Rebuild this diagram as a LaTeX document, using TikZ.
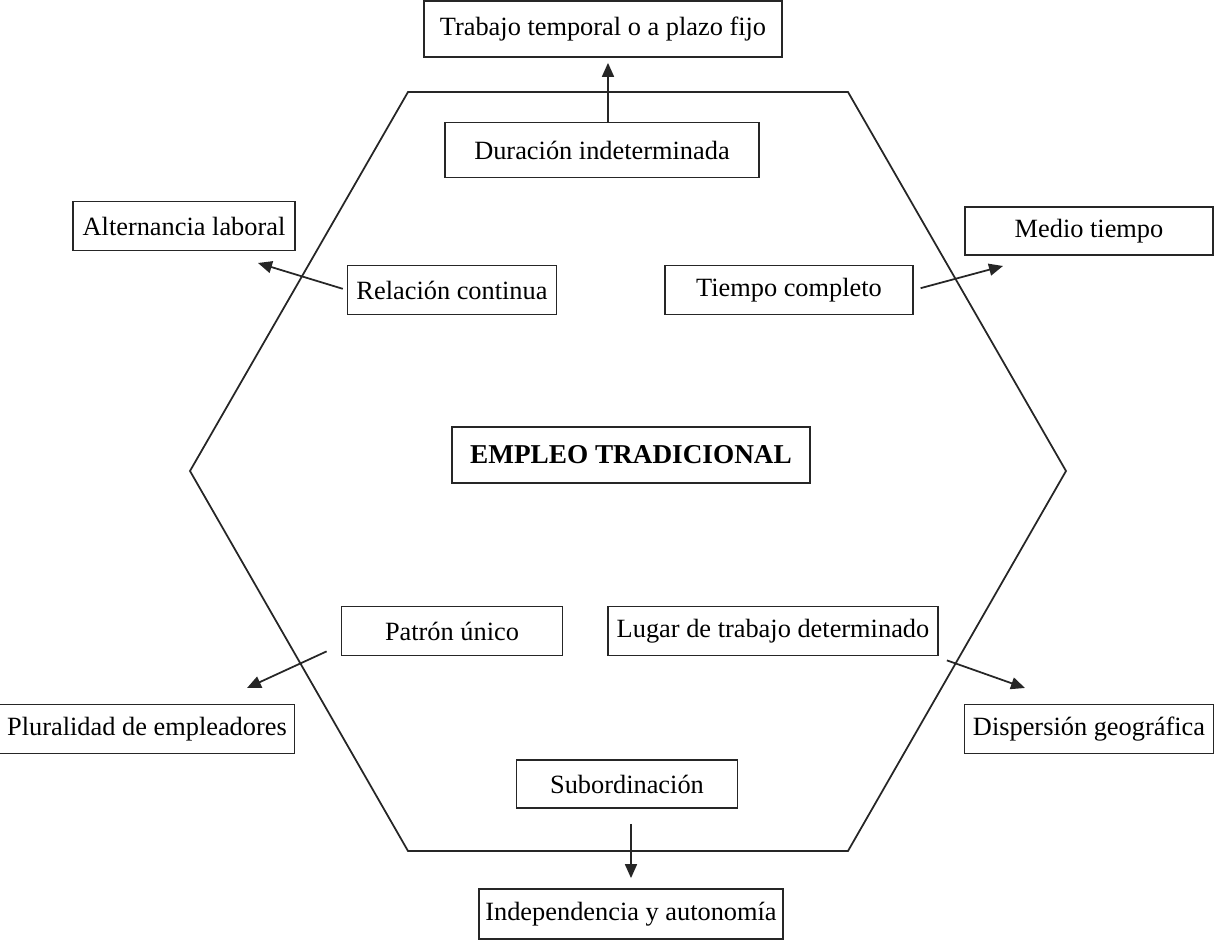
\documentclass[tikz,border=0pt]{standalone}
\usepackage{fontspec}
\setmainfont{Liberation Serif}
\usetikzlibrary{arrows.meta,calc,positioning}

\begin{document}
\begin{tikzpicture}[
  box/.style={draw=black!85, line width=1pt, minimum height=0.98cm, align=center, font=\fontsize{15}{17}\selectfont},
  big/.style={box, minimum height=1.12cm},
  arr/.style={-{Triangle[length=2.8mm,width=2.4mm]}, line width=1pt, draw=black!85},
  hex/.style={draw=black!85, line width=1pt}
]
\useasboundingbox (0,0) rectangle (24.32,18.82);

% hexagon
\draw[hex] (8.16,16.98) -- (16.96,16.98) -- (21.32,9.40) -- (16.96,1.80)
  -- (8.16,1.80) -- (3.80,9.40) -- cycle;

% centre
\node[big, minimum width=7.16cm, font=\fontsize{15.5}{17}\selectfont\bfseries] (emp) at (12.62,9.72) {EMPLEO TRADICIONAL};

% inner features
\node[big, minimum width=6.28cm, minimum height=1.10cm] (dur) at (12.04,15.82) {Duración indeterminada};
\node[box, minimum width=4.18cm] (rel) at (9.04,13.02) {Relación continua};
\node[box, minimum width=4.96cm] (tc) at (15.78,13.02) {Tiempo completo};
\node[box, minimum width=4.42cm] (pat) at (9.04,6.20) {Patrón único};
\node[box, minimum width=6.60cm] (lug) at (15.46,6.20) {Lugar de trabajo determinado};
\node[box, minimum width=4.42cm, minimum height=0.96cm] (sub) at (12.54,3.14) {Subordinación};

% outer alternatives
\node[big, minimum width=7.16cm] (trab) at (12.06,18.24) {Trabajo temporal o a plazo fijo};
\node[box, minimum width=4.44cm] (alt) at (3.68,14.30) {Alternancia laboral};
\node[box, minimum width=4.96cm, minimum height=0.96cm] (medio) at (21.78,14.20) {Medio tiempo};
\node[box, minimum width=5.90cm] (plur) at (2.94,4.24) {Pluralidad de empleadores};
\node[box, minimum width=4.98cm] (disp) at (21.78,4.24) {Dispersión geográfica};
\node[box, minimum width=6.08cm, minimum height=1.00cm] (ind) at (12.62,0.54) {Independencia y autonomía};

% free arrow ends
\coordinate (altTip) at (5.16,13.56);
\coordinate (medioTip) at (20.06,13.50);
\coordinate (plurTip) at (4.94,5.06);
\coordinate (dispTip) at (20.50,5.06);

\draw[arr, shorten >=0.1cm] ([xshift=0.12cm]dur.north) -- ([xshift=0.12cm]dur.north |- trab.south);
\draw[arr, shorten <=0.08cm] (rel.west) -- (altTip);
\draw[arr, shorten <=0.14cm] (tc.east) -- (medioTip);
\draw[arr] ([shift={(-0.28,0.1)}]pat.south west) -- (plurTip);
\draw[arr] ([shift={(0.16,-0.08)}]lug.south east) -- (dispTip);
\draw[arr, shorten <=0.3cm, shorten >=0.2cm] (sub.south -| ind.north) -- (ind.north);
\end{tikzpicture}
\end{document}
